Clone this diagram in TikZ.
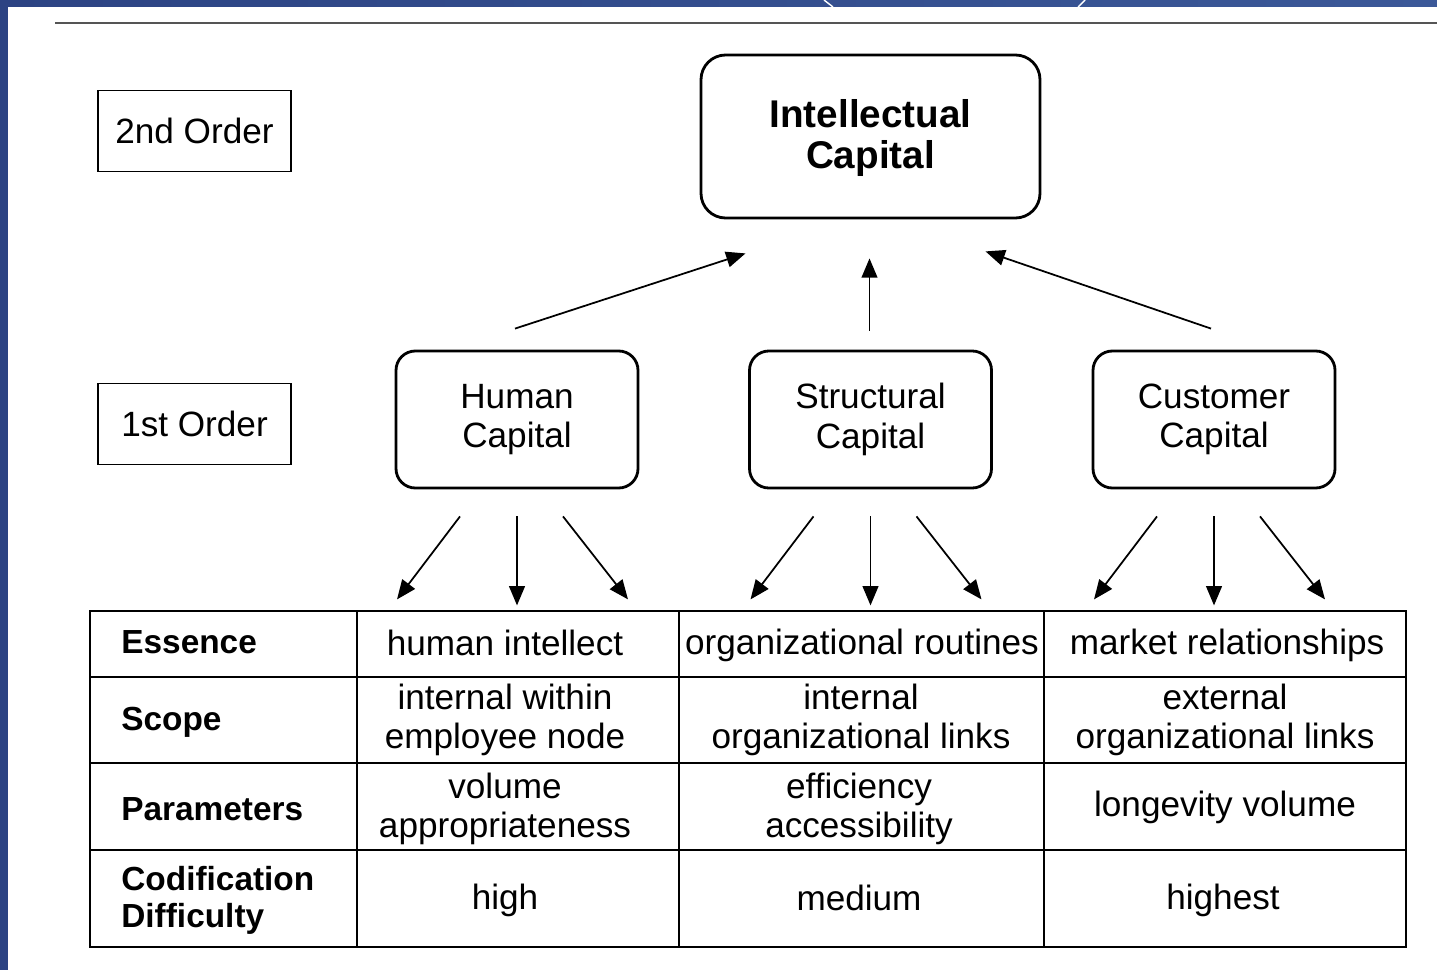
\documentclass[tikz,border=0pt]{standalone}
\usepackage{fontspec}
\setmainfont{Liberation Sans}
\usepackage{xcolor}
\usepackage{tikz}
\usetikzlibrary{arrows.meta,calc,positioning}

\definecolor{slidedark}{HTML}{2C4383}
\definecolor{slidelight}{HTML}{4B6CB1}
\definecolor{slidemid}{HTML}{3B5898}
\definecolor{rulegray}{HTML}{555555}

\begin{document}
\begin{tikzpicture}[x=0.2mm,y=-0.2mm]
\tikzset{capital/.style = {shape=rectangle,draw,rounded corners=11pt,line width=1.6pt,align=center,inner sep=0pt,
  minimum width=48.4mm,minimum height=27.4mm,font=\fontsize{20}{22.5}\selectfont}}
\tikzset{order/.style = {shape=rectangle,draw,line width=1pt,inner sep=0pt,
  minimum width=38.6mm,minimum height=16.2mm,font=\fontsize{20}{22.5}\selectfont}}
\tikzset{edge/.style = {-{Triangle[length=11pt,width=9pt]},line width=1pt}}
\tikzset{head/.style = {anchor=west,align=left,inner sep=0pt,font=\bfseries\fontsize{19}{21}\selectfont}}
\tikzset{cell/.style = {align=center,inner sep=0pt,font=\fontsize{20}{22}\selectfont}}
\useasboundingbox (0,0) rectangle (1437,970);
% slide frame
\fill[white] (0,0) rectangle (1437,970);
\fill[slidedark] (0,0) rectangle (8,970);
\shade[left color=slidedark,middle color=slidelight,right color=slidemid] (0,0) rectangle (1437,7);
\draw[white,line width=0.8pt] (824,0) -- (833,7);
\draw[white,line width=0.8pt] (1085,0) -- (1078,7);
\draw[rulegray,line width=1.6pt] (55,23) -- (1437,23);
% levels
\node[order] (second) at (194.5,131) {2nd Order};
\node[order] (first) at (194.5,424) {1st Order};
\node[capital,rounded corners=14pt,minimum width=67.8mm,minimum height=32.6mm,
  font=\bfseries\fontsize{22}{23.5}\selectfont] (ic) at (870.5,136.5) {\rule{0pt}{18pt}Intellectual\\Capital};
\node[capital] (hc) at (517,419.5) {Human\\Capital};
\node[capital] (sc) at (870.5,419.5) {Structural\\Capital};
\node[capital] (cc) at (1214,419.5) {Customer\\Capital};
% arrows up
\coordinate (hc-up) at ($(hc.north)+(-2,-21)$);
\coordinate (sc-up) at ($(sc.north)+(-1,-19)$);
\coordinate (cc-up) at ($(cc.north)+(-3,-21)$);
\coordinate (ic-left) at ($(ic.south)+(-125,34)$);
\coordinate (ic-mid) at ($(ic.south)+(-1,39)$);
\coordinate (ic-right) at ($(ic.south)+(115,32)$);
\draw[edge] (hc-up) -- (ic-left);
\draw[edge] (sc-up) -- (ic-mid);
\draw[edge] (cc-up) -- (ic-right);
% arrows down
\foreach \n in {hc,sc,cc} {
  \coordinate (\n-l0) at ($(\n.south)+(-57,27)$);
  \coordinate (\n-m0) at ($(\n.south)+(0,27)$);
  \coordinate (\n-r0) at ($(\n.south)+(46,27)$);
  \coordinate (\n-l1) at ($(\n.south)+(-120,110)$);
  \coordinate (\n-m1) at ($(\n.south)+(0,116)$);
  \coordinate (\n-r1) at ($(\n.south)+(111,110)$);
  \draw[edge] (\n-l0) -- (\n-l1);
  \draw[edge] (\n-m0) -- (\n-m1);
  \draw[edge] (\n-r0) -- (\n-r1);
}
% table
\draw[line width=1pt] (90,611) rectangle (1406,947);
\draw[line width=1pt] (357,611) -- (357,947);
\draw[line width=1pt] (679,611) -- (679,947);
\draw[line width=1pt] (1044,611) -- (1044,947);
\draw[line width=1pt] (90,677) -- (1406,677);
\draw[line width=1pt] (90,763) -- (1406,763);
\draw[line width=1pt] (90,850) -- (1406,850);
\node[head] (ess) at (121,642) {Essence};
\node[head] (scp) at (121,722) {Scope};
\node[head] (par) at (121,809) {Parameters};
\node[head] (cod) at (121,900) {Codification\\Difficulty};
\node[cell] (hc-ess) at (505,643) {human intellect};
\node[cell] (hc-scp) at (505,720) {internal within\\employee node};
\node[cell] (hc-par) at (505,809) {volume\\appropriateness};
\node[cell] (hc-cod) at (505,900) {high};
\node[cell] (sc-ess) at (862,645) {organizational routines};
\node[cell] (sc-scp) at (861,720) {internal\\organizational links};
\node[cell] (sc-par) at (859,809) {efficiency\\accessibility};
\node[cell] (sc-cod) at (859,898) {medium};
\node[cell] (cc-ess) at (1227,645) {market relationships};
\node[cell] (cc-scp) at (1225,720) {external\\organizational links};
\node[cell] (cc-par) at (1225,807) {longevity volume};
\node[cell] (cc-cod) at (1223,900) {highest};
\end{tikzpicture}
\end{document}
